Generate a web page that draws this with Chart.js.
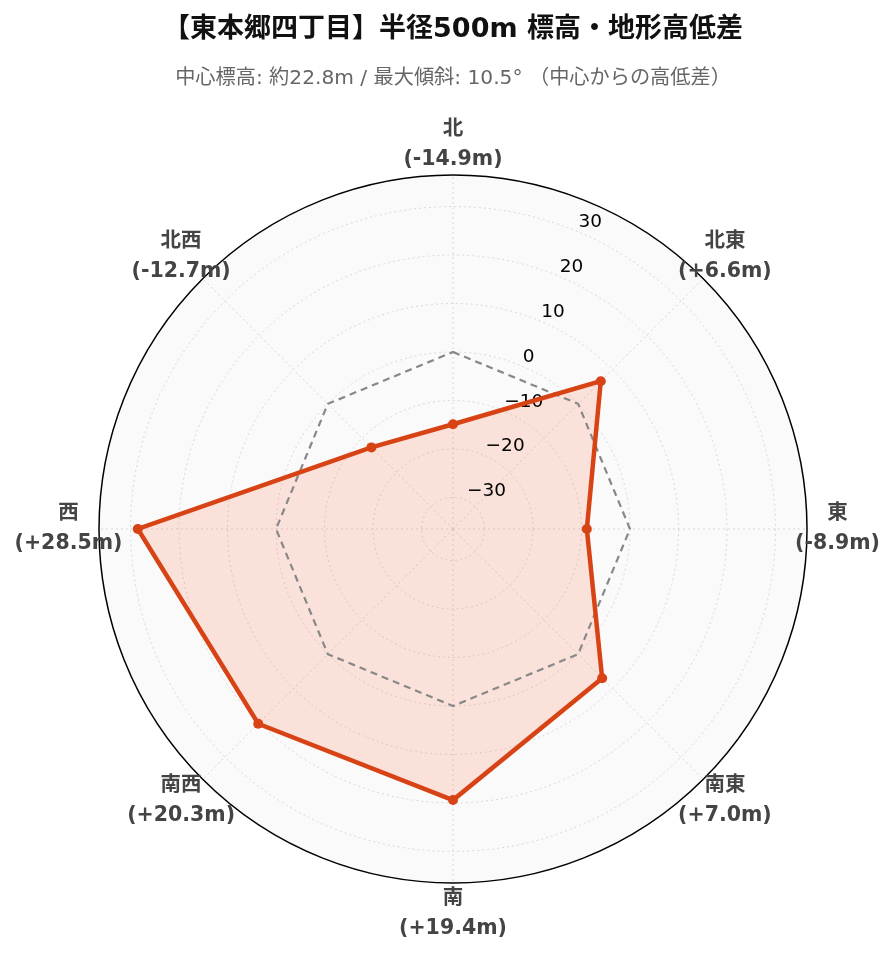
<!DOCTYPE html>
<html lang="ja">
<head>
<meta charset="utf-8">
<title>東本郷四丁目 標高・地形高低差</title>
<script src="https://cdn.jsdelivr.net/npm/chart.js@4/dist/chart.umd.min.js"></script>
<style>
  html, body { margin: 0; padding: 0; background: #fff; }
  #wrap { width: 896px; height: 962px; position: relative; }
</style>
</head>
<body>
<div id="wrap"><canvas id="radarChart"></canvas></div>
<script>
/* ── Data ───────────────────────────────────────────────────── */

const directions = ["北", "北東", "東", "南東", "南", "南西", "西", "北西"];
const diffs      = [-14.9, 6.6, -8.9, 7.0, 19.4, 20.3, 28.5, -12.7];   // m, vs centre
const baseline   = [0, 0, 0, 0, 0, 0, 0, 0];
const tickValues = [-30, -20, -10, 0, 10, 20, 30];
const rMin = -36.5;
const rMax = 36.5;

const FONT = '"DejaVu Sans", "Noto Sans CJK JP", sans-serif';
const RED  = "#d84315";

/* ── Helpers ────────────────────────────────────────────────── */

function fmtDiff(v) {
  return "(" + (v >= 0 ? "+" : "") + v.toFixed(1) + "m)";
}

function fmtTick(v) {
  return v < 0 ? "\u2212" + Math.abs(v) : String(v);
}

/* ── Plugins: upright tick labels + centred two-line point labels ── */

const tickLabelPlugin = {
  id: "tickLabels",
  beforeDatasetsDraw(chart) {
    const s = chart.scales.r;
    const ctx = chart.ctx;
    const a = s.getIndexAngle(0) + Math.PI / 8 - Math.PI / 2;
    ctx.save();
    ctx.font = "18.5px " + FONT;
    ctx.fillStyle = "#000";
    ctx.textAlign = "left";
    ctx.textBaseline = "middle";
    tickValues.forEach(v => {
      const d = s.getDistanceFromCenterForValue(v);
      const x = s.xCenter + Math.cos(a) * d + 2;
      const y = s.yCenter + Math.sin(a) * d - 8.5;
      ctx.fillText(fmtTick(v), x, y);
    });
    ctx.restore();
  },
};

const pointLabelPlugin = {
  id: "dirLabels",
  afterDraw(chart) {
    const s = chart.scales.r;
    const ctx = chart.ctx;
    ctx.save();
    ctx.font = "bold 20.5px " + FONT;
    ctx.fillStyle = "#444";
    ctx.textAlign = "center";
    ctx.textBaseline = "middle";
    directions.forEach((name, i) => {
      const p = s.getPointPosition(i, s.drawingArea + 30.5);
      ctx.fillText(name, p.x, p.y - 15);
      ctx.fillText(fmtDiff(diffs[i]), p.x, p.y + 15);
    });
    ctx.restore();
  },
};

/* ── Chart ──────────────────────────────────────────────────── */

Chart.defaults.font.family = FONT;

new Chart(document.getElementById("radarChart"), {
  type: "radar",
  data: {
    labels: directions,
    datasets: [
      {
        label: "高低差",
        data: diffs,
        borderColor: RED,
        borderWidth: 4.5,
        backgroundColor: "rgba(255,87,34,0.15)",
        fill: "start",
        pointRadius: 5,
        pointBackgroundColor: RED,
        pointBorderWidth: 0,
        tension: 0,
      },
      {
        label: "中心",
        data: baseline,
        borderColor: "#888",
        borderWidth: 2.2,
        borderDash: [7, 5],
        fill: false,
        pointRadius: 0,
        tension: 0,
      },
    ],
  },
  options: {
    responsive: true,
    maintainAspectRatio: false,
    animation: false,
    layout: { padding: { left: 99, right: 89, top: 0, bottom: 0 } },
    plugins: {
      legend: { display: false },
      tooltip: { enabled: false },
      filler: { drawTime: "beforeDatasetsDraw" },
      title: {
        display: true,
        text: "【東本郷四丁目】半径500m 標高・地形高低差",
        color: "#111",
        font: { size: 27, weight: "bold", lineHeight: 1.2 },
        padding: { top: 14, bottom: 0 },
      },
      subtitle: {
        display: true,
        text: "中心標高: 約22.8m / 最大傾斜: 10.5° （中心からの高低差）",
        color: "#666",
        font: { size: 20.2, lineHeight: 1.2 },
        padding: { top: 20, bottom: 7 },
      },
    },
    scales: {
      r: {
        min: rMin,
        max: rMax,
        backgroundColor: "#fafafa",
        ticks: { display: false, stepSize: 10 },
        pointLabels: { display: false },
        grid: {
          circular: true,
          color: c => (c.tick && c.tick.value === rMax ? "#000" : "#d8d8d8"),
          lineWidth: c => (c.tick && c.tick.value === rMax ? 1.5 : 1),
        },
        border: {
          dash: c => (c.tick && c.tick.value === rMax ? [] : [2, 3]),
        },
        angleLines: { color: "#d8d8d8", lineWidth: 1, borderDash: [2, 3] },
      },
    },
  },
  plugins: [tickLabelPlugin, pointLabelPlugin],
});
</script>
</body>
</html>
